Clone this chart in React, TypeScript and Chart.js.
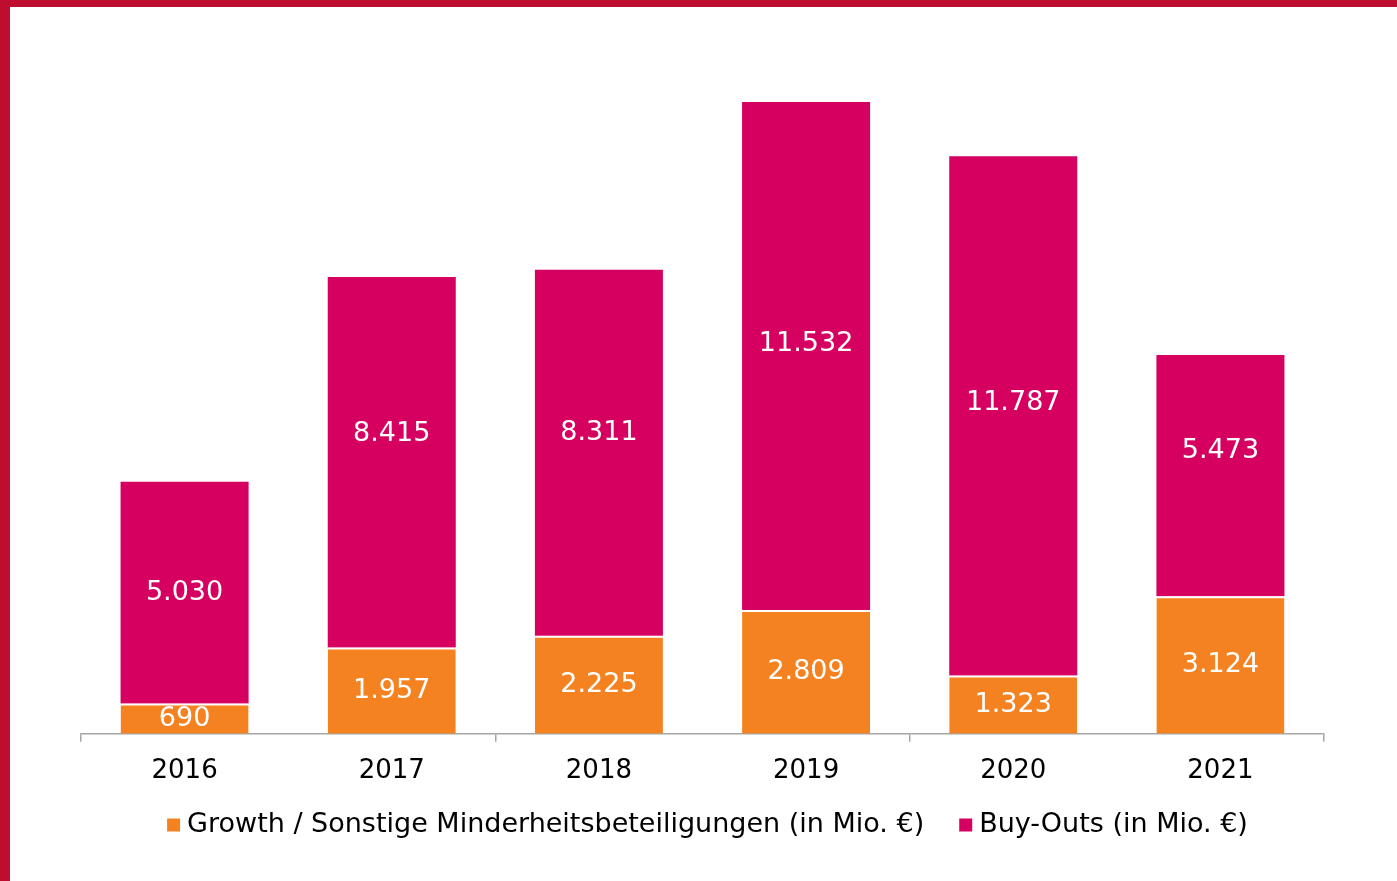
import { useEffect, useRef } from 'react';
import { Chart, registerables } from 'chart.js';

Chart.register(...registerables);

const years = ['2016', '2017', '2018', '2019', '2020', '2021'];
const growthValues = [690, 1957, 2225, 2809, 1323, 3124];
const buyoutValues = [5030, 8415, 8311, 11532, 11787, 5473];
const seriesNames = ['Growth / Sonstige Minderheitsbeteiligungen (in Mio. €)', 'Buy-Outs (in Mio. €)'];

const FONT = '"DejaVu Sans", Verdana, sans-serif';
const ORANGE = '#F58220';
const MAGENTA = '#D5005F';
const FRAME = '#BE0D2E';
const AXIS = '#a6a6a6';

const fmt = (v: number) => String(v).replace(/\B(?=(\d{3})+(?!\d))/g, '.');

const valueLabels = {
  id: 'valueLabels',
  afterDatasetsDraw(chart: any, _args: any, opts: any) {
    const { ctx } = chart;
    ctx.save();
    ctx.font = `${opts.fontSize}px ${FONT}`;
    ctx.fillStyle = '#ffffff';
    ctx.textAlign = 'center';
    ctx.textBaseline = 'middle';
    chart.data.datasets.forEach((ds: any, di: number) => {
      const meta = chart.getDatasetMeta(di);
      meta.data.forEach((bar: any, i: number) => {
        const { x, y, base } = bar.getProps(['x', 'y', 'base'], true);
        const nudge = (opts.nudges && opts.nudges[di] && opts.nudges[di][i]) || 0;
        ctx.fillText(fmt(ds.data[i]), x, (y + base) / 2 + nudge);
      });
    });
    ctx.restore();
  },
};

// Legend drawn on the canvas for exact spacing
const bottomLegend = {
  id: 'bottomLegend',
  afterDraw(chart: any, _args: any, opts: any) {
    const { ctx, chartArea } = chart;
    const box = opts.boxSize;
    const gap = opts.boxGap;
    const itemGap = opts.itemGap;
    ctx.save();
    ctx.font = `${opts.fontSize}px ${FONT}`;
    ctx.textBaseline = 'middle';
    ctx.textAlign = 'left';
    const items = chart.data.datasets.map((ds: any) => ({
      text: ds.label,
      color: ds.backgroundColor,
      w: ctx.measureText(ds.label).width,
    }));
    const total = items.reduce((s: number, it: any) => s + box + gap + it.w, 0) + itemGap * (items.length - 1);
    let x = (chartArea.left + chartArea.right) / 2 + opts.shift - total / 2;
    const y = opts.y;
    items.forEach((it: any) => {
      ctx.fillStyle = it.color;
      ctx.fillRect(x, y - box / 2, box, box);
      x += box + gap;
      ctx.fillStyle = '#000000';
      ctx.fillText(it.text, x, y);
      x += it.w + itemGap;
    });
    ctx.restore();
  },
};

export default function App() {
  const canvasRef = useRef<HTMLCanvasElement | null>(null);

  useEffect(() => {
    if (!canvasRef.current) return;
    const chart = new Chart(canvasRef.current, {
      type: 'bar',
      data: {
        labels: years,
        datasets: [
          {
            label: seriesNames[0],
            data: growthValues,
            backgroundColor: ORANGE,
            borderColor: '#ffffff',
            borderWidth: { top: 2, left: 0, right: 0, bottom: 0 },
            borderSkipped: false,
            categoryPercentage: 1,
            barPercentage: 0.618,
          },
          {
            label: seriesNames[1],
            data: buyoutValues,
            backgroundColor: MAGENTA,
            borderWidth: 0,
            categoryPercentage: 1,
            barPercentage: 0.618,
          },
        ],
      },
      plugins: [valueLabels, bottomLegend],
      options: {
        responsive: false,
        animation: false,
        layout: { padding: { top: 29, left: 81, right: 73, bottom: 80 } },
        scales: {
          x: {
            stacked: true,
            offset: true,
            border: { display: true, color: AXIS, width: 1.5 },
            grid: {
              display: true,
              offset: true,
              drawOnChartArea: false,
              drawTicks: true,
              tickLength: 8,
              lineWidth: 1.5,
              color: (c: any) =>
                c.type === 'tick' ? (c.index % 2 === 0 ? AXIS : 'rgba(0,0,0,0)') : AXIS,
            },
            ticks: { font: { family: FONT, size: 26 }, color: '#000000', padding: 14 },
          },
          y: {
            stacked: true,
            display: false,
            min: 0,
            max: 16000,
          },
        },
        plugins: {
          legend: { display: false },
          tooltip: { enabled: false },
          valueLabels: { fontSize: 27, nudges: [[0, 0, 0, 0, 0, 0], [0, -28, -20, -12, -13, -25]] },
          bottomLegend: { boxSize: 13, boxGap: 7, itemGap: 35, fontSize: 27, y: 825, shift: 5 },
        } as any,
      },
    });
    return () => chart.destroy();
  }, []);

  return (
    <div style={{ position: 'absolute', left: 0, top: 0, width: 1397, height: 881, background: '#ffffff', overflow: 'hidden' }}>
      <canvas ref={canvasRef} width={1397} height={881} style={{ display: 'block' }} />
      <div style={{ position: 'absolute', left: 0, top: 0, width: 1397, height: 7, background: FRAME }} />
      <div style={{ position: 'absolute', left: 0, top: 0, width: 10, height: 881, background: FRAME }} />
    </div>
  );
}
